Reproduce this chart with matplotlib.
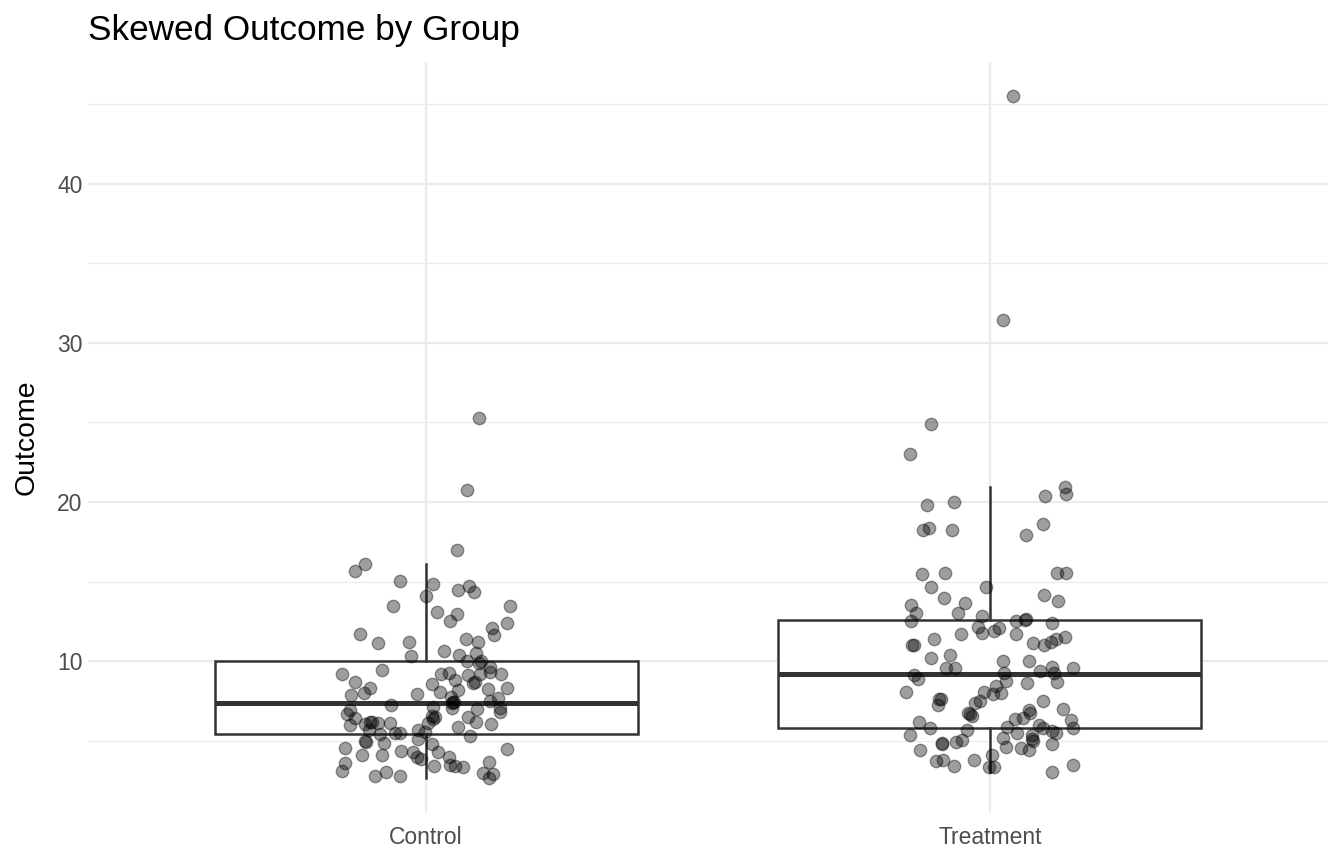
import numpy as np
import matplotlib
matplotlib.use("Agg")
import matplotlib.pyplot as plt
from matplotlib.ticker import MultipleLocator

plt.rcParams['font.family'] = ['Liberation Sans', 'DejaVu Sans']

# values, per group
groups = ['Control', 'Treatment']

control_y = [25.30, 20.78,
             17.00, 16.13, 15.69, 15.02, 14.87, 14.76, 14.51, 14.33, 14.09, 13.49,
             13.49, 13.12, 12.97, 12.53, 12.43, 12.09, 11.67, 11.71, 11.17, 11.19,
             11.40, 11.19, 10.63, 10.33, 10.39, 10.50, 10.02, 10.00, 9.87, 9.67,
             9.44, 9.18, 9.23, 9.29, 9.14, 9.23, 9.33, 9.23, 8.81, 8.70, 8.68, 8.35,
             8.01, 7.87, 7.97, 8.60, 8.10, 8.20, 8.24, 8.31, 7.72, 7.51, 7.76, 7.45,
             7.10, 7.13, 7.24, 6.95, 6.68, 6.45, 5.99, 7.03, 7.10, 6.85, 6.57, 6.41,
             6.53, 6.22, 6.07, 5.91, 6.11, 6.09, 6.22, 6.11, 6.16, 5.69, 5.47, 5.49,
             5.53, 5.67, 5.57, 5.13, 5.30, 4.98, 4.88, 4.56, 4.82, 4.53, 4.36, 4.31,
             4.31, 4.03, 3.90, 4.15, 4.11, 4.00, 3.62, 3.12, 3.67, 3.48, 3.44, 3.34,
             3.44, 2.81, 3.06, 2.79, 3.00, 2.96, 2.65,
             4.96, 7.40, 7.46, 8.66, 6.50, 6.20]

# horizontal jitter of each point (in group units)
control_dx = [0.094, 0.073,
              0.055, -0.109, -0.127, -0.047, 0.012, 0.076, 0.057, 0.085, -0.001, -0.058,
              0.148, 0.020, 0.054, 0.042, 0.143, 0.116, 0.121, -0.118, -0.085, -0.030,
              0.071, 0.092, 0.031, -0.027, 0.059, 0.089, 0.072, 0.097, 0.094, 0.114,
              -0.079, -0.150, 0.026, 0.040, 0.075, 0.095, 0.114, 0.133, 0.052, 0.086,
              -0.126, -0.099, -0.111, -0.134, -0.017, 0.010, 0.024, 0.057, 0.110, 0.143,
              0.128, 0.114, 0.044, 0.048, 0.045, 0.012, -0.063, -0.136, -0.140, -0.127,
              -0.136, 0.091, 0.131, 0.131, 0.010, 0.012, 0.074, 0.089, 0.115, 0.057,
              0.003, -0.109, -0.099, -0.086, -0.064, -0.101, -0.082, -0.056, -0.046,
              -0.014, -0.002, -0.015, 0.078, -0.109, -0.075, -0.144, 0.010, 0.143,
              -0.044, -0.023, 0.021, -0.017, -0.010, -0.113, -0.079, 0.041, -0.144,
              -0.150, 0.112, 0.043, 0.051, 0.065, 0.014, -0.091, -0.072, -0.047, 0.101,
              0.118, 0.111,
              -0.106, 0.046, 0.050, 0.083, 0.016, -0.096]

treatment_y = [45.49, 31.44, 24.90, 23.00, 20.97, 20.51, 20.41, 19.84, 20.03, 18.65,
               18.40, 18.23, 18.23, 17.96,
               15.47, 15.56, 15.54, 15.54, 14.70, 14.70, 14.20, 13.82, 13.95, 13.66,
               13.53, 13.07, 13.03, 12.88, 12.51, 12.51, 12.66, 12.60, 12.40, 12.13,
               11.80, 11.88, 12.09, 11.74, 11.71, 11.42, 11.17, 11.02, 11.24, 11.40,
               11.55, 11.00, 11.02,
               10.19, 10.39, 10.02, 10.02, 9.67, 9.58, 9.56, 9.56, 9.29, 8.76, 9.39,
               9.25, 8.73, 9.13, 8.92, 8.62, 8.08, 8.45, 7.95, 8.04, 8.08, 7.51, 7.41,
               7.66, 7.62, 7.24, 7.54, 7.03, 6.78, 6.57, 6.68, 6.95, 6.74, 6.47, 6.36,
               6.32, 6.18, 5.80, 5.36, 5.69, 5.91, 5.99, 5.80, 5.36, 5.15, 5.03, 5.63,
               5.49, 5.80, 5.53, 5.19, 4.63, 4.90, 4.84, 4.97, 5.05, 4.46, 4.80, 4.59,
               4.42, 3.77, 3.79, 3.44, 3.79, 4.11, 3.40, 3.34, 3.06, 3.48]

treatment_dx = [0.041, 0.023, -0.104, -0.142, 0.133, 0.135, 0.098, -0.111, -0.063, 0.094,
                -0.108, -0.118, -0.067, 0.064,
                -0.121, -0.079, 0.120, 0.136, -0.105, -0.007, 0.096, 0.121, -0.082,
                -0.044, -0.139, -0.131, -0.057, -0.014, -0.140, 0.047, 0.064, 0.062,
                0.111, -0.021, -0.013, 0.008, 0.016, 0.047, -0.052, -0.099, 0.077,
                0.096, 0.108, 0.117, 0.133, -0.138, -0.134,
                -0.105, -0.071, 0.024, 0.069, 0.111, 0.147, -0.078, -0.061, 0.026,
                0.029, 0.089, 0.113, 0.120, -0.134, -0.127, 0.066, -0.149, 0.011,
                0.005, 0.020, -0.010, -0.017, -0.027, -0.091, -0.086, -0.092, 0.094,
                0.130, -0.038, -0.032, -0.036, 0.070, 0.071, 0.059, 0.044, 0.144,
                -0.126, -0.107, -0.142, -0.040, 0.030, 0.088, 0.094, 0.075, 0.075,
                0.077, 0.111, 0.117, 0.147, 0.048, 0.023, 0.028, -0.084, -0.085,
                -0.060, -0.050, -0.123, 0.110, 0.055, 0.070, -0.096, -0.083, -0.064,
                -0.028, 0.004, -0.001, 0.007, 0.111, 0.147]

assert len(control_y) == len(control_dx)
assert len(treatment_y) == len(treatment_dx)

grid_col = '#EBEBEB'
line_col = '#333333'

fig = plt.figure(figsize=(13.44, 8.64), dpi=100)
ax = fig.add_axes([88/1344, 1-812.6/864, 1240/1344, 750.6/864])

data = [control_y, treatment_y]
jit = [control_dx, treatment_dx]
pos = np.arange(1, len(groups)+1)

ax.boxplot(data, positions=pos, widths=0.75, whis=1.5, showfliers=False,
           showcaps=False, patch_artist=True, zorder=2,
           boxprops=dict(facecolor='white', edgecolor=line_col, linewidth=1.8),
           whiskerprops=dict(color=line_col, linewidth=1.8),
           medianprops=dict(color=line_col, linewidth=3.6, solid_capstyle='butt'))

for p, ys, dx in zip(pos, data, jit):
    ax.scatter(p + np.array(dx), ys, s=80, c='black', alpha=0.38,
               edgecolors='black', linewidths=1.0, zorder=3)

# ggplot-like limits
allv = np.concatenate([control_y, treatment_y])
lo, hi = allv.min(), allv.max()
pad = 0.05*(hi - lo)
ax.set_ylim(lo - pad, hi + pad)
ax.set_xlim(0.4, len(groups) + 0.6)

ax.yaxis.set_major_locator(MultipleLocator(10))
ax.yaxis.set_minor_locator(MultipleLocator(5))
ax.set_xticks(pos)
ax.set_xticklabels(groups)
ax.grid(which='major', color=grid_col, linewidth=1.6, zorder=0)
ax.grid(which='minor', axis='y', color=grid_col, linewidth=0.8, zorder=0)
ax.set_axisbelow(True)
for s in ax.spines.values():
    s.set_visible(False)
ax.tick_params(which='both', length=0)
ax.tick_params(axis='x', labelsize=16.5, labelcolor='#4D4D4D', pad=10)
ax.tick_params(axis='y', labelsize=16.5, labelcolor='#4D4D4D', pad=4)

fig.text(27/1344, 1-437/864, 'Outcome', rotation=90, fontsize=20.4,
         ha='center', va='center')
fig.text(88/1344, 1-40/864, 'Skewed Outcome by Group', fontsize=25.3,
         ha='left', va='baseline')

fig.savefig('out.png', dpi=100)
